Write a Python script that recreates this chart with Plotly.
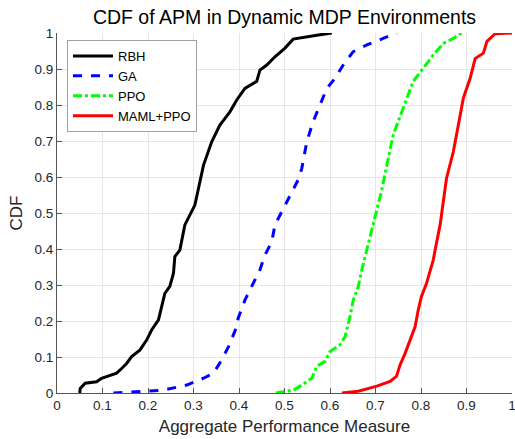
import plotly.graph_objects as go

# RBH
rbh_x = [0.050, 0.051, 0.062, 0.087, 0.098, 0.113, 0.131, 0.142, 0.153, 0.164, 0.182, 0.197,
         0.208, 0.223, 0.230, 0.237, 0.248, 0.256, 0.259, 0.270, 0.281, 0.303, 0.322, 0.340,
         0.358, 0.380, 0.395, 0.413, 0.439, 0.446, 0.461, 0.479, 0.501, 0.519, 0.571, 0.604]
rbh_y = [0.000, 0.013, 0.027, 0.031, 0.041, 0.047, 0.055, 0.068, 0.082, 0.101, 0.119, 0.147,
         0.175, 0.203, 0.240, 0.277, 0.296, 0.333, 0.379, 0.397, 0.467, 0.522, 0.633, 0.698,
         0.744, 0.781, 0.814, 0.846, 0.866, 0.897, 0.911, 0.934, 0.958, 0.983, 0.994, 1.000]

# GA
ga_x = [0.124, 0.234, 0.285, 0.322, 0.344, 0.362, 0.377, 0.395, 0.398, 0.413, 0.431, 0.446,
        0.457, 0.472, 0.479, 0.494, 0.512, 0.530, 0.538, 0.549, 0.563, 0.578, 0.593, 0.611,
        0.629, 0.651, 0.681, 0.717, 0.747]
ga_y = [0.000, 0.008, 0.022, 0.041, 0.055, 0.092, 0.129, 0.184, 0.207, 0.258, 0.304, 0.342,
        0.383, 0.420, 0.467, 0.504, 0.545, 0.592, 0.624, 0.698, 0.754, 0.801, 0.846, 0.874,
        0.911, 0.948, 0.967, 0.985, 1.000]

# PPO
ppo_x = [0.481, 0.520, 0.538, 0.560, 0.571, 0.589, 0.600, 0.622, 0.633, 0.644, 0.651, 0.662,
         0.670, 0.681, 0.695, 0.713, 0.728, 0.739, 0.754, 0.769, 0.783, 0.805, 0.827, 0.849,
         0.871, 0.889]
ppo_y = [0.000, 0.008, 0.022, 0.041, 0.074, 0.088, 0.115, 0.134, 0.156, 0.212, 0.258, 0.295,
         0.342, 0.397, 0.467, 0.560, 0.652, 0.717, 0.768, 0.819, 0.866, 0.902, 0.939, 0.971,
         0.985, 1.000]

# MAML+PPO
maml_x = [0.626, 0.662, 0.703, 0.732, 0.746, 0.754, 0.765, 0.776, 0.787, 0.794, 0.801, 0.812,
          0.820, 0.827, 0.831, 0.842, 0.856, 0.871, 0.882, 0.893, 0.908, 0.919, 0.937, 0.945,
          0.963, 1.000]
maml_y = [0.000, 0.005, 0.019, 0.032, 0.046, 0.078, 0.110, 0.147, 0.184, 0.231, 0.268, 0.304,
          0.342, 0.370, 0.397, 0.467, 0.596, 0.670, 0.744, 0.819, 0.874, 0.929, 0.944, 0.977,
          0.998, 1.000]

ticks = [i / 10 for i in range(11)]
tick_labels = ["0", "0.1", "0.2", "0.3", "0.4", "0.5", "0.6", "0.7", "0.8", "0.9", "1"]

FONT = "Liberation Sans, Arial, sans-serif"

fig = go.Figure()
fig.add_trace(go.Scatter(x=rbh_x, y=rbh_y, mode="lines", name="RBH",
                         line=dict(color="#000000", width=3)))
fig.add_trace(go.Scatter(x=ga_x, y=ga_y, mode="lines", name="GA",
                         line=dict(color="#0000ff", width=3, dash="dash")))
fig.add_trace(go.Scatter(x=ppo_x, y=ppo_y, mode="lines", name="PPO",
                         line=dict(color="#00ff00", width=3, dash="dashdot")))
fig.add_trace(go.Scatter(x=maml_x, y=maml_y, mode="lines", name="MAML+PPO",
                         line=dict(color="#ff0000", width=3)))

axis_common = dict(
    range=[0, 1], tickvals=ticks, ticktext=tick_labels,
    showgrid=True, gridcolor="#e6e6e6", gridwidth=1,
    zeroline=False, showline=True, linecolor="#555555", linewidth=1,
    ticks="inside", ticklen=5, tickcolor="#555555",
    tickfont=dict(family=FONT, size=13.5, color="#262626"),
    mirror=False, automargin=False, ticklabeloverflow="allow",
)

fig.update_layout(
    width=515, height=439,
    margin=dict(l=57, r=3, t=33, b=46),
    paper_bgcolor="white", plot_bgcolor="white",
    title=dict(text="CDF of APM in Dynamic MDP Environments",
               font=dict(family=FONT, size=19.5, color="#000000"),
               x=(57 + 455 / 2) / 515, xanchor="center", y=1 - 17 / 439, yanchor="middle"),
    xaxis=dict(**axis_common,
               title=dict(text="Aggregate Performance Measure",
                          font=dict(family=FONT, size=17, color="#262626"), standoff=7)),
    yaxis=dict(**axis_common,
               title=dict(text="CDF",
                          font=dict(family=FONT, size=17, color="#262626"), standoff=7)),
    legend=dict(x=10 / 455, y=1 - 7 / 360, xanchor="left", yanchor="top",
                bgcolor="white", bordercolor="#a0a0a0", borderwidth=1,
                font=dict(family=FONT, size=13, color="#000000"),
                itemwidth=40, tracegroupgap=0),
    showlegend=True,
)

fig.write_html("out.html",
               config={"displayModeBar": False},
               post_script="document.body.style.margin='0';document.body.style.overflow='hidden';")
